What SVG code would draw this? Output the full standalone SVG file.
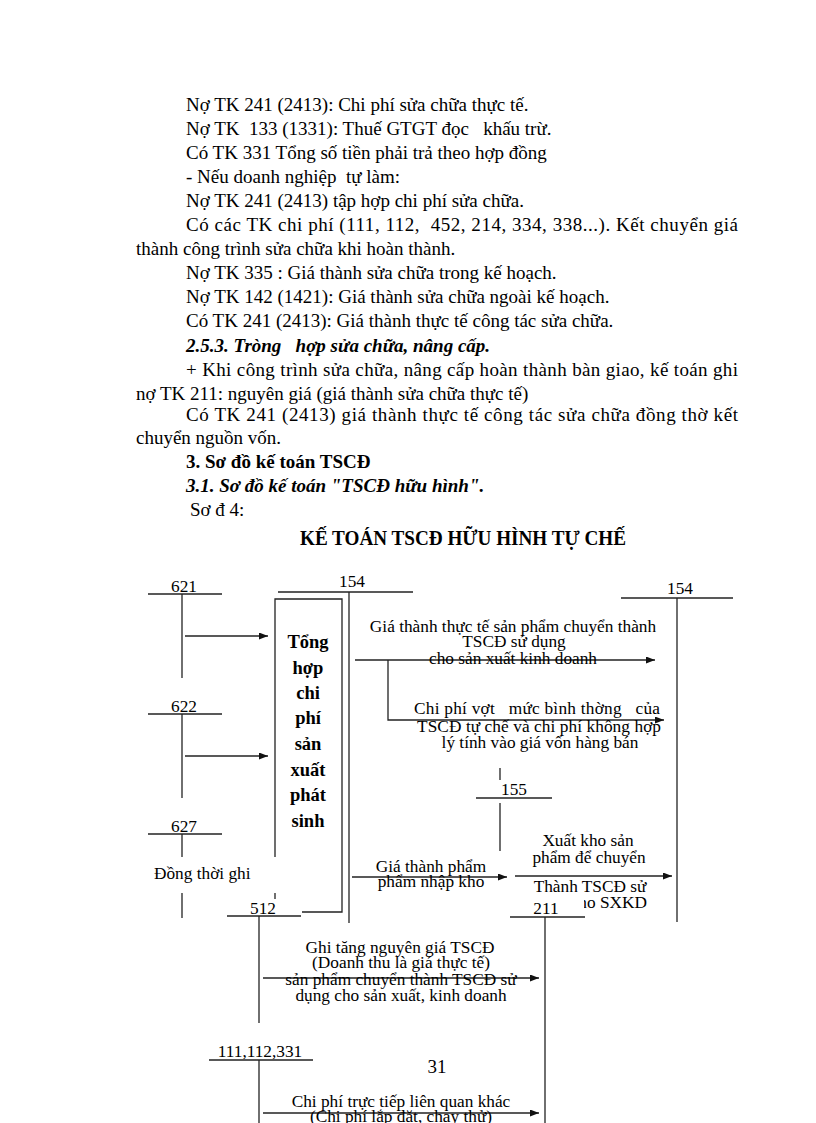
<svg xmlns="http://www.w3.org/2000/svg" width="816" height="1123" viewBox="0 0 816 1123">
<style>
.b{font-family:"Liberation Serif","Times New Roman",serif;font-size:19px;fill:#000}
.bb{font-weight:bold}
.bi{font-weight:bold;font-style:italic}
.t{font-family:"Liberation Serif","Times New Roman",serif;font-size:20px;font-weight:bold;fill:#000}
.d{font-family:"Liberation Serif","Times New Roman",serif;font-size:17.3px;fill:#000}
.m{text-anchor:middle}
.bx{font-family:"Liberation Serif","Times New Roman",serif;font-size:18.5px;font-weight:bold;fill:#000;text-anchor:middle}
.ln{stroke:#222;stroke-width:1.3;fill:none}
.ar{stroke:#222;stroke-width:1.3;fill:none;marker-end:url(#ah)}
</style>
<defs>
<marker id="ah" markerUnits="userSpaceOnUse" markerWidth="9" markerHeight="7" refX="9" refY="3.5" orient="auto">
<path d="M0,0 L9,3.5 L0,7 z" fill="#111"/>
</marker>
</defs>
<rect width="816" height="1123" fill="#fff"/>

<g id="body-text">
<text class="b" x="186" y="111">Nợ TK 241 (2413): Chi  phí sửa chữa thực tế.</text>
<text class="b" x="186" y="135" xml:space="preserve">Nợ TK  133 (1331): Thuế GTGT đọc   khấu trừ.</text>
<text class="b" x="186" y="159">Có TK 331 Tổng số tiền phải trả theo hợp đồng</text>
<text class="b" x="186" y="183" xml:space="preserve">- Nếu doanh nghiệp  tự làm:</text>
<text class="b" x="186" y="207">Nợ TK 241 (2413) tập hợp chi phí sửa chữa.</text>
<text class="b" x="186" y="231" textLength="552" lengthAdjust="spacing" xml:space="preserve">Có các TK chi phí (111, 112,  452, 214, 334, 338...). Kết chuyển giá</text>
<text class="b" x="136" y="255">thành công trình sửa chữa khi hoàn thành.</text>
<text class="b" x="186" y="279">Nợ TK 335 : Giá thành sửa chữa trong kế hoạch.</text>
<text class="b" x="186" y="303">Nợ TK 142 (1421): Giá thành sửa chữa ngoài kế hoạch.</text>
<text class="b" x="186" y="327">Có TK 241 (2413): Giá thành thực tế công tác sửa chữa.</text>
<text class="b bi" x="186" y="352" xml:space="preserve">2.5.3. Tròng   hợp sửa chữa, nâng cấp.</text>
<text class="b" x="186" y="376" textLength="552" lengthAdjust="spacing">+ Khi công trình sửa chữa, nâng cấp hoàn thành bàn giao, kế toán ghi</text>
<text class="b" x="136" y="400">nợ TK 211: nguyên giá (giá thành sửa chữa thực tế)</text>
<text class="b" x="186" y="421" textLength="552" lengthAdjust="spacing">Có TK 241 (2413) giá thành thực tế công tác sửa chữa đồng thờ kết</text>
<text class="b" x="136" y="444">chuyển nguồn vốn.</text>
<text class="b bb" x="186" y="468">3. Sơ đồ kế toán TSCĐ</text>
<text class="b bi" x="186" y="492">3.1. Sơ đồ kế toán "TSCĐ hữu hình".</text>
<text class="b" x="190" y="516">Sơ đ 4:</text>
<text class="t" x="300" y="545" textLength="326" lengthAdjust="spacingAndGlyphs">KẾ TOÁN TSCĐ HỮU HÌNH TỰ CHẾ</text>
</g>

<g id="tk621">
<text class="d m" x="184" y="592">621</text>
<line class="ln" x1="148" y1="594" x2="222" y2="594"/>
<line class="ln" x1="182" y1="594" x2="182" y2="678"/>
</g>
<g id="tk622">
<text class="d m" x="184" y="712">622</text>
<line class="ln" x1="148" y1="714" x2="222" y2="714"/>
<line class="ln" x1="182" y1="714" x2="182" y2="798"/>
</g>
<g id="tk627">
<text class="d m" x="184" y="832">627</text>
<line class="ln" x1="148" y1="834" x2="222" y2="834"/>
<line class="ln" x1="182" y1="834" x2="182" y2="857"/>
<text class="d" x="154" y="879" font-size="18">Đồng thời ghi</text>
<line class="ln" x1="182" y1="893" x2="182" y2="918"/>
</g>
<g id="box-tong-hop">
<path class="ln" d="M275,857 V599 H342 V912 H302"/>
<line class="ln" x1="275" y1="893" x2="275" y2="899"/>
<text class="bx" x="308" y="648">Tổng</text>
<text class="bx" x="308" y="674">hợp</text>
<text class="bx" x="308" y="699">chi</text>
<text class="bx" x="308" y="724">phí</text>
<text class="bx" x="308" y="750">sản</text>
<text class="bx" x="308" y="776">xuất</text>
<text class="bx" x="308" y="801">phát</text>
<text class="bx" x="308" y="827">sinh</text>
</g>
<g id="tk154-left">
<text class="d m" x="352" y="587">154</text>
<line class="ln" x1="278" y1="592" x2="413" y2="592"/>
<line class="ln" x1="349" y1="592" x2="349" y2="923"/>
</g>
<g id="tk154-right">
<text class="d m" x="680" y="594">154</text>
<line class="ln" x1="621" y1="598" x2="733" y2="598"/>
<line class="ln" x1="677" y1="598" x2="677" y2="922"/>
</g>
<g id="tk155">
<line class="ln" x1="500" y1="768" x2="500" y2="780"/>
<text class="d m" x="514" y="795">155</text>
<line class="ln" x1="476" y1="798" x2="552" y2="798"/>
<line class="ln" x1="500" y1="803" x2="500" y2="851"/>
</g>
<g id="tk512">
<text class="d m" x="263" y="914">512</text>
<line class="ln" x1="227" y1="916" x2="301" y2="916"/>
<line class="ln" x1="259" y1="916" x2="259" y2="1023"/>
</g>
<g id="tk111">
<text class="d m" x="260" y="1057">111,112,331</text>
<line class="ln" x1="209" y1="1060" x2="313" y2="1060"/>
<line class="ln" x1="259" y1="1060" x2="259" y2="1123"/>
</g>

<g id="connectors">
<line class="ar" x1="185" y1="636" x2="268" y2="636"/>
<line class="ar" x1="185" y1="756" x2="268" y2="756"/>
<line class="ar" x1="355" y1="660" x2="655" y2="660"/>
<path class="ar" d="M388,660 V720 H664"/>
<line class="ar" x1="352" y1="877" x2="507" y2="877"/>
<line class="ar" x1="515" y1="876" x2="672" y2="876"/>
<line class="ar" x1="263" y1="978" x2="539" y2="978"/>
<line class="ar" x1="263" y1="1113" x2="539" y2="1113"/>
</g>

<g id="labels">
<text class="d m" x="513" y="632">Giá thành thực tế sản phẩm chuyển thành</text>
<text class="d m" x="514" y="647">TSCĐ sử dụng</text>
<text class="d m" x="513" y="664">cho sản xuất kinh doanh</text>
<text class="d" x="414" y="714" textLength="246" lengthAdjust="spacing" xml:space="preserve">Chi phí vợt   mức bình thờng   của</text>
<text class="d" x="417" y="732" textLength="244" lengthAdjust="spacing">TSCĐ tự chế và chi phí không hợp</text>
<text class="d m" x="540" y="748">lý tính vào giá vốn hàng bán</text>
<text class="d m" x="431" y="872">Giá thành phẩm</text>
<text class="d m" x="431" y="887">phẩm nhập kho</text>
<text class="d m" x="588" y="846">Xuất kho sản</text>
<text class="d m" x="589" y="863">phẩm để chuyển</text>
<text class="d m" x="590" y="892">Thành TSCĐ sử</text>
<text class="d" x="647" y="908" text-anchor="end">dụng cho SXKD</text>
</g>
<g id="tk211">
<rect x="512" y="893" width="72" height="22" fill="#fff"/>
<text class="d m" x="546" y="914">211</text>
<line class="ln" x1="510" y1="917" x2="585" y2="917"/>
<line class="ln" x1="545" y1="917" x2="545" y2="1123"/>
</g>
<g id="labels2">
<text class="d m" x="400" y="953">Ghi tăng nguyên giá TSCĐ</text>
<text class="d m" x="401" y="968">(Doanh thu là giá thực tế)</text>
<text class="d m" x="401" y="985">sản phẩm chuyển thành TSCĐ sử</text>
<text class="d m" x="401" y="1001">dụng cho sản xuất, kinh doanh</text>
<text class="d m" x="401" y="1107">Chi phí trực tiếp liên quan khác</text>
<text class="d m" x="401" y="1122">(Chi phí lắp đặt, chạy thử)</text>
</g>
<text class="b" x="437" y="1073" text-anchor="middle" font-size="17.5">31</text>
</svg>
